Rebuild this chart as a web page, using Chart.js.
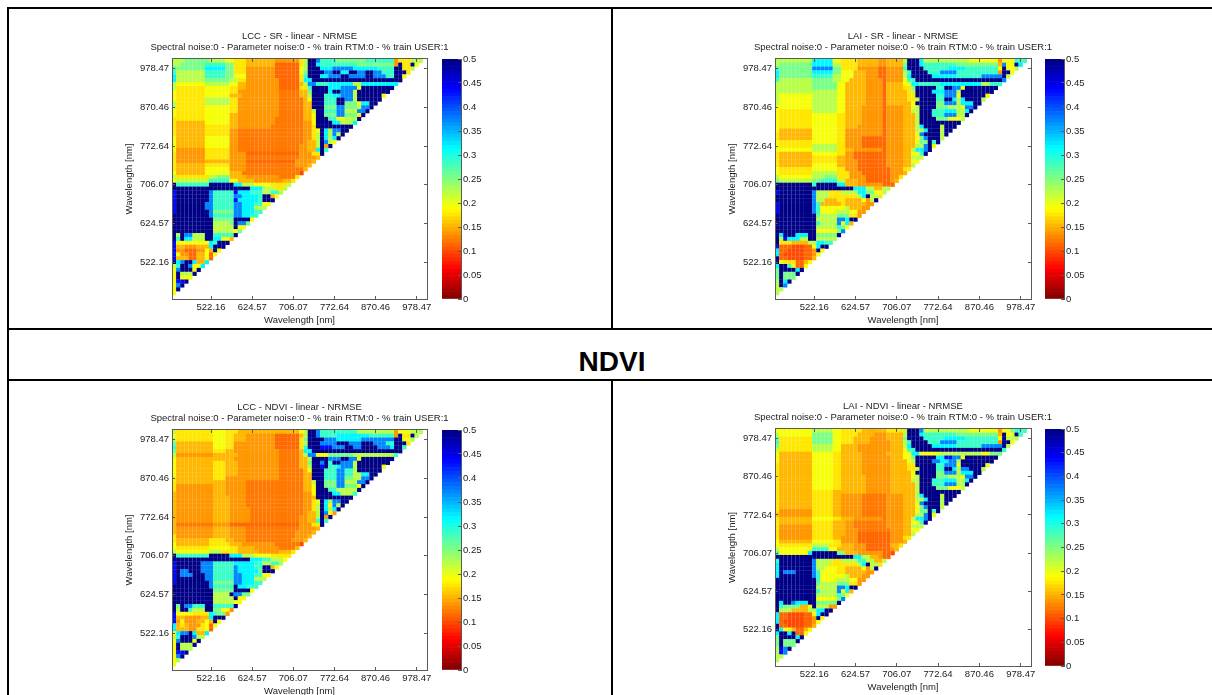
<!DOCTYPE html>
<html>
<head>
<meta charset="utf-8">
<title>NRMSE band combination maps</title>
<script src="https://cdn.jsdelivr.net/npm/chart.js@4/dist/chart.umd.js"></script>
<style>
  html, body { margin: 0; padding: 0; background: #fff; width: 1212px; height: 695px; overflow: hidden; }
  canvas { position: absolute; filter: blur(0.45px); }
  .rule { position: absolute; background: #000; }
  #band { position: absolute; left: 8px; width: 1208px; top: 345px; text-align: center;
          font: bold 28px "Liberation Sans", Arial, sans-serif; color: #000; line-height: 33px; }
</style>
</head>
<body>
<div class="rule" style="left:7px;top:7px;width:1205px;height:2px"></div>
<div class="rule" style="left:7px;top:7px;width:2px;height:688px"></div>
<div class="rule" style="left:611px;top:8px;width:2px;height:321px"></div>
<div class="rule" style="left:8px;top:328px;width:1204px;height:2px"></div>
<div class="rule" style="left:8px;top:379px;width:1204px;height:2px"></div>
<div class="rule" style="left:611px;top:380px;width:2px;height:315px"></div>
<div id="band">NDVI</div>

<canvas id="mapA"></canvas><canvas id="barA"></canvas>
<canvas id="mapB"></canvas><canvas id="barB"></canvas>
<canvas id="mapC"></canvas><canvas id="barC"></canvas>
<canvas id="mapD"></canvas><canvas id="barD"></canvas>

<script>
// Tick labels, at band numbers 10, 20 ... 60
const bandTicks = [10, 20, 30, 40, 50, 60];
const wavelengthLabels = ['522.16', '624.57', '706.07', '772.64', '870.46', '978.47'];
const colorbarTicks = ['0', '0.05', '0.1', '0.15', '0.2', '0.25', '0.3', '0.35', '0.4', '0.45', '0.5'];

const levelLetters = ['D', 'B', 'L', 'C', 'T', 'G', 'H', 'Y', 'A', 'O', 'N', 'M', 'R', 'E'];
const levelValues = [0.5, 0.43, 0.37, 0.32, 0.285, 0.255, 0.225, 0.195, 0.175, 0.155, 0.138, 0.125, 0.115, 0.095];

// One string per row, top row first. "H3 G9" = level H up to column 3, then level G up to column 9.
const lccSrRows = [
  'H3 G9 H13 Y15 A18 O25 N31 A32 H33 D35 L36 T40 G47 T54 N55 A58 H61',
  'H2 G8 T13 G15 A18 O25 R31 A32 H33 D35 C36 T45 G54 N55 D56 A58 D59 Y60',
  'T1 G8 C13 G15 A18 N25 R31 Y32 H33 D36 C39 L44 C50 T54 D56 A58 H59',
  'T1 H8 T13 G15 A18 N25 R31 Y32 G33 D37 L39 D41 C43 D45 L47 D49 L51 T54 D57 A58',
  'C1 H8 T13 G15 Y18 N25 R31 A32 T33 D36 C38 L41 D43 L47 D49 L52 T54 D56 Y57',
  'C1 H8 G14 H16 A18 N26 R31 A32 C34 D56',
  'H1 Y8 H14 Y16 O18 N26 R31 O32 H33 L35 T38 C44 H46 C55',
  'H1 A8 Y14 A16 O18 N26 R31 A33 T34 D38 C41 L45 Y46 D54',
  'Y1 A8 Y14 A16 N18 N26 M31 O33 G34 D38 C39 D41 L44 H45 D53',
  'Y1 A8 Y14 O17 N26 M31 O33 H34 D37 T39 C41 L44 H45 D51 Y52',
  'Y1 A8 H14 A16 N26 M32 O33 Y34 D37 T40 D42 L44 H45 D51',
  'H1 A8 H14 A16 N26 M32 O34 D37 T40 D42 G45 Y46 C48 D50',
  'H1 A8 Y14 A16 N26 M32 O34 D37 G40 L42 G45 H46 L48 D49',
  'Y1 A8 Y14 A16 N26 M32 O34 H35 D37 T40 L42 H45 L47 D48',
  'Y1 A8 Y14 O16 N26 M32 O34 Y35 D37 G40 L42 G45 Y46 D47',
  'A1 A8 Y14 O16 N25 M32 O34 Y35 D38 T40 Y42 H45 D46',
  'A1 O8 Y14 O16 N25 M32 N34 Y35 D39 C41 H44 C45',
  'A1 O8 A14 O16 N24 M32 N34 A35 D44',
  'A1 O8 A14 N16 M32 N34 A35 Y36 D37 C38 H39 L41 D43',
  'A1 O8 A14 N16 M32 N34 A35 H36 D37 C38 H39 L40 H41 D42',
  'Y1 O8 Y14 N16 M32 N34 A35 H36 D37 C38 H39 C40 D41',
  'Y1 O8 Y14 N16 M32 N33 O35 H36 D37 L38 H39 Y40',
  'Y1 O8 Y14 N16 M31 N33 O35 H36 D37 N38 D39',
  'Y1 N8 A14 N16 M31 N33 O35 C36 D37 T38',
  'A1 N8 A14 N18 R31 N34 A36 D37',
  'A1 N8 A14 N18 M31 N35 O36',
  'A1 N8 O14 N18 R30 N34 O35',
  'A1 O8 A14 N18 M30 N33 O34',
  'A1 O8 Y14 N18 M32 O33',
  'Y1 O8 Y14 O17 M31 E32',
  'H1 A9 H11 G14 O18 N26 M30 A31',
  'Y1 H9 T14 Y16 O20 N27 O29 A30',
  'D1 T9 D15 C17 H20 Y24 A28 H29',
  'D19 C22 H25 A27 H28',
  'B1 D9 L10 T15 B16 C19 T22 H24 T26 H27',
  'B1 D9 L10 T15 L17 C21 T22 D24 O25 Y26',
  'B1 D9 L10 T15 B16 C21 T22 D25',
  'B1 D8 L10 T15 L17 C20 T22 Y24',
  'B1 D8 L10 T15 L17 C20 H23',
  'B1 D9 L10 G15 L17 C20 T22',
  'D9 L10 T15 L17 C19 T21',
  'D10 G15 D19 Y20',
  'D10 H14 G15 D16 L18 G19',
  'D10 H15 D16 Y18',
  'D10 H15 Y16 G17',
  'D1 H2 D3 L5 H8 D10 T15 D16',
  'D1 T2 D3 C5 H8 D10 C12 Y14 O15',
  'B1 Y9 C10 T11 D14',
  'B1 O3 N6 O9 C10 D13',
  'B1 N3 R6 N8 Y9 O10 D11 Y12',
  'B1 Y2 N4 R6 O8 Y9 R10 Y11',
  'B1 O4 R6 O8 Y9 R10',
  'D1 C2 L3 D5 C6 O8 C9',
  'H1 T2 D4 L5 Y7 C8',
  'Y1 L2 D5 Y6 D7',
  'Y1 D2 H5 D6',
  'Y1 D2 Y5',
  'Y1 B3 D4',
  'Y1 L2 D3',
  'Y1 D2',
  'Y1'
];

const laiSrRows = [
  'H9 C14 Y16 A20 O25 N27 O31 H32 D35 C36 H47 Y54 N55 Y58 T61',
  'H1 G9 C14 H16 A20 O25 N27 O31 G32 D35 C36 T44 G54 O55 L56 Y58 D59 C60',
  'T1 G9 L14 G16 A20 N25 R27 N31 T32 D36 T42 C46 T54 Y55 D56 Y58 H59',
  'C1 G9 C14 G16 Y19 O22 N25 R27 N31 H32 T33 D37 T40 L44 T54 N55 D57 Y58',
  'C1 G9 T14 H16 Y19 O22 N25 R27 N31 H32 C33 D38 C44 T50 L55 D56 H57',
  'T1 H9 G14 H16 Y18 O22 N26 R27 N31 Y32 T34 D55 L56',
  'H9 G15 Y17 O22 N26 R27 O31 Y33 C35 T40 C50 H52 T55',
  'H9 G15 Y17 O22 N26 R27 O31 A33 G34 D39 T41 D43 L45 Y46 D54',
  'H15 Y17 O22 N26 R27 O32 A33 H34 D38 C41 L44 H45 D53',
  'H1 Y9 H15 Y17 O22 N26 R27 O32 A34 D39 T41 L44 Y45 D51 Y52',
  'H1 Y9 H15 Y17 O22 N26 R27 O32 A34 H35 D39 T41 D43 C44 H45 C46 D50 H51',
  'H1 Y9 H15 Y17 O22 N26 R27 O33 Y34 D39 G41 L44 H45 C48 D50',
  'Y9 H15 Y17 O21 N26 R27 N31 O33 Y34 H35 D39 G42 H45 Y46 L48 D49',
  'Y1 A9 H15 Y17 O21 N26 R27 N31 O33 H35 D38 T41 C44 H46 C47 D48',
  'Y1 A9 Y15 A17 O21 N26 R27 N31 O34 H35 D38 T41 L44 H46 D47',
  'Y1 A9 Y15 A17 O21 N26 R27 N31 O34 H35 D39 G42 Y45 H46',
  'Y1 A9 Y15 A17 O21 N26 R27 N31 O34 H35 D45',
  'Y1 A9 Y15 A17 O20 N26 R27 N31 O34 H35 C36 D40 H41 D44',
  'Y1 O9 Y15 A17 N26 R27 N31 O34 H36 C37 D40 H41 D43',
  'A1 O9 Y15 A17 N26 R27 N31 O34 Y35 L36 D40 H41 D42',
  'A1 O9 Y15 A17 N21 R27 N31 O34 Y35 G36 L37 D40 H41',
  'Y1 A9 Y15 A17 N21 R27 N31 O34 Y35 G37 D38 T39 D40',
  'Y1 A9 H15 A17 N21 R27 N31 O34 H36 L37 D38 Y39',
  'Y9 H15 A17 O19 N26 R27 N31 O33 H34 C36 L37 D38',
  'A1 O9 Y15 A17 N19 R27 N31 O33 Y35 T36 D37',
  'A1 O9 A15 O17 N19 R27 N31 O33 H36',
  'A1 O9 A15 O17 N20 R27 N31 O33 Y35',
  'A1 O9 Y15 O17 N20 R27 N31 O33 H34',
  'Y1 A9 Y15 A17 N20 R28 N31 A33',
  'Y1 A9 H15 A18 N21 R28 N31 O32',
  'H1 Y9 H12 G15 A18 N22 R28 N30 A31',
  'G1 H9 G11 T15 H17 O20 N22 R28 N29 O30',
  'D9 T10 D15 C17 O20 N26 R29',
  'D19 C22 H24 O26 H28',
  'B1 D9 L10 H13 A16 H20 C22 G24 Y26 H27',
  'D9 L10 H13 A20 H21 C22 D23 H25 A26',
  'D9 L10 H12 O15 A17 O21 Y22 N23 H24 D25',
  'B1 D9 L10 T11 O16 A17 O22 N24',
  'B1 D9 L10 T11 Y17 H18 O21 N23',
  'B1 D9 L10 T11 Y15 H18 Y20 N22',
  'D10 G11 H15 G18 A20 N21',
  'D10 H15 L17 C18 D20',
  'D10 T11 H15 L16 Y17 C18 O19',
  'D10 H15 T16 G17 Y18',
  'D10 Y15 G16 L17',
  'D1 C2 D5 C8 D10 G15 D16',
  'D1 H2 B3 C6 H8 D10 H15',
  'D1 A4 O8 H10 C12 T14',
  'B1 R4 E7 R9 Y10 C11 D13',
  'C1 R3 E7 R9 N10 D11 Y12',
  'C1 R2 E7 R9 N10 Y11',
  'D1 R3 E7 R9 O10',
  'D1 Y2 A5 R7 O8 Y9',
  'C1 D3 T4 Y5 R7 Y8',
  'G1 D5 C6 D7',
  'G1 D2 G5 D6',
  'G1 D2 G5',
  'H1 D2 C3 D4',
  'H1 D2 L3',
  'H2',
  'H1'
];

const lccNdviRows = [
  'H1 A10 Y13 A16 O31 Y32 H33 D35 L36 T45 H54 N55 Y58 H61',
  'Y1 A10 Y13 A15 O18 N25 R31 O32 H33 D35 L36 T40 C48 T54 N55 D56 A58 D59 H60',
  'H1 A10 Y13 A15 O18 N25 R31 A32 G33 D37 L40 C46 L54 D56 Y58 H59',
  'G1 O10 Y13 A15 N25 R31 A32 H33 D36 L40 D43 L46 D49 L52 T54 D57 A58',
  'T1 O10 Y13 A15 N25 R31 A32 T33 D36 B39 L42 D44 L46 D50 L53 C54 D56 T57',
  'G1 O10 A13 O15 N26 M31 O32 C34 D56',
  'H1 N10 O16 N26 M31 O32 H33 L35 Y38 G44 H54 T55',
  'Y1 O15 N26 M31 O33 H34 D38 L41 D43 L45 Y46 D54',
  'Y1 O10 A13 O16 N26 M31 O33 G34 D36 L37 D38 T39 D41 L44 H45 D53',
  'Y1 O10 A13 O16 N26 M31 O33 H34 D36 B37 D38 T40 C41 L44 H45 D51 Y52',
  'Y1 O10 A13 O16 N26 M32 O33 Y34 D37 T40 L42 T44 H45 D51',
  'Y1 O10 A13 O16 N26 M32 O34 D37 T40 L42 T44 H46 C48 D50',
  'A1 O10 A13 N26 M32 O34 D37 T40 L42 G44 H46 L48 D49',
  'A1 O13 N18 M32 O34 H35 D37 G40 L42 H45 L47 D48',
  'A1 N10 O13 N18 M32 O34 Y35 D37 G40 L42 G45 Y46 D47',
  'A1 N10 O13 N18 M32 O34 Y35 D38 T40 H45 D46',
  'O1 N10 O13 N18 M32 N34 Y35 D39 C41 H44 T45',
  'O1 N10 O14 N18 M32 N34 O35 D44',
  'O1 N10 O14 N18 M32 N34 A35 Y36 D37 C38 H39 L41 D43',
  'O1 N10 O14 N18 M32 N34 A35 H36 D37 C38 Y39 L40 H41 D42',
  'O1 N10 O14 N19 M32 N34 A35 H36 D37 C38 H39 C40 D41',
  'O1 N10 O14 N19 M32 N33 O35 H36 D37 L38 Y39 N40',
  'O1 N10 O14 N19 M31 N33 O35 H36 D37 N38 D39',
  'O1 N10 O14 N19 M31 N33 O35 T36 D37 T38',
  'O1 M10 N14 R31 N34 A36 D37',
  'O1 N10 O14 N18 M31 N35 O36',
  'O1 N10 O14 N18 M30 N34 O35',
  'A1 N10 O14 N18 M30 N33 O34',
  'A1 O9 A13 O15 N18 M29 N32 O33',
  'Y1 O9 A14 O17 N25 M31 E32',
  'Y1 A9 Y14 A16 O20 N26 M30 O31',
  'H1 Y9 H12 A16 O21 N26 O29 A30',
  'D1 T9 D14 C17 H20 Y24 A29',
  'D19 C22 T24 H27 Y28',
  'B1 D7 L10 T15 C20 T22 H24 T26 H27',
  'B1 D7 L10 T15 L16 C20 T22 D24 O25 Y26',
  'B1 D2 L4 D7 L10 T15 L16 C21 G22 D25',
  'B1 D2 L5 D8 L10 T15 L17 C20 T22 Y24',
  'B1 D8 L10 T15 L17 C20 H23',
  'B1 D9 L10 G15 L17 C20 T22',
  'D9 L10 T15 D16 C18 T21',
  'D10 G15 D19 Y20',
  'D10 H14 D15 L17 G19',
  'D10 H15 D16 Y18',
  'D10 H15 Y17',
  'D1 G2 D3 L5 T8 D10 T15 D16',
  'D1 H2 D4 T5 H8 D10 G12 Y14 N15',
  'B1 Y5 A9 C10 T11 G13 N14',
  'B1 O3 N7 O9 C10 D13',
  'B1 N2 Y3 N6 O8 Y9 O10 D11 Y12',
  'C1 O2 A3 O4 N7 A8 Y9 R10 Y11',
  'C1 O4 N6 A8 Y9 R10',
  'Y1 C2 L4 D5 C6 O8 C9',
  'H1 T2 D5 L6 H8',
  'Y1 L2 D5 Y6 D7',
  'Y1 D2 H5 D6',
  'Y1 D2 H5',
  'Y1 B3 D4',
  'Y1 L2 D3',
  'Y1 H2',
  'Y1'
];

const laiNdviRows = [
  'Y9 H14 Y16 A21 O27 A31 H32 D35 L36 H47 Y54 N55 Y57 G58 T61',
  'H1 Y9 G14 Y16 A20 O24 N27 O31 H32 D35 C36 T44 G54 O55 D56 Y58 D59 T60',
  'G1 A9 G14 Y16 A19 O23 N27 O31 G32 D36 T41 C46 T54 Y55 D56 H59',
  'T1 A9 G14 Y16 A19 O23 N28 O31 H32 T33 D37 T40 L44 T54 N55 D57 Y58',
  'G1 A9 H14 Y16 O20 N28 O31 H32 C33 D38 C44 T50 L55 D56 H57',
  'H1 A9 H14 Y16 O20 N28 O31 Y32 T34 D55 T56',
  'Y1 O9 Y14 A16 O21 N27 O31 Y33 C35 Y40 H50 Y52 G55',
  'Y1 O9 Y14 A16 O21 N28 O31 Y33 G34 D39 C41 B43 L45 Y46 D54',
  'Y1 O9 Y14 A16 O21 N28 O32 Y33 H34 D38 L40 C42 L44 H45 D53',
  'A1 O9 Y14 A16 O21 N28 O32 A34 D39 T41 L44 Y45 D51 Y52',
  'A1 O9 Y14 A16 O21 N28 O32 A34 H35 D39 T41 D43 C44 H45 L47 D50 H51',
  'A1 O9 Y14 A16 O21 N28 O33 Y34 D39 G41 L44 H45 C48 D50',
  'A1 O9 Y14 A16 O22 N28 O33 Y34 H35 D39 G42 H45 Y46 L48 D49',
  'A1 O9 Y14 A16 O22 N28 O33 H35 D38 T41 C44 H46 C47 D48',
  'A1 O9 Y14 A16 O22 N28 O34 H35 D38 T41 L44 H46 D47',
  'A1 O9 Y14 A16 O22 N28 O34 H35 D39 G42 Y45 H46',
  'A1 O9 A14 O22 N28 O34 H35 D45',
  'A1 O9 A14 O16 N21 M27 N31 O34 H35 C36 D40 H41 D44',
  'A1 O9 A14 O16 N21 M27 N31 O34 H36 C37 D40 H41 D43',
  'A1 O9 A14 O16 N21 M27 N31 O34 Y35 L36 D40 H41 D42',
  'A1 O9 A14 O16 N21 M27 N31 O34 Y35 G36 L37 D40 H41',
  'A1 N9 A14 O16 N21 M27 N31 O34 Y35 G37 D38 T39 D40',
  'O1 N9 A14 O16 N21 M27 N31 O34 H36 L37 D38 Y39',
  'A1 O9 Y14 A16 O19 N26 M27 N31 O33 H34 C36 L37 D38',
  'A1 O9 A14 O17 N19 M27 N31 O33 Y35 T36 D37',
  'A1 N9 A14 O17 N19 M27 N31 O33 H36',
  'A1 N9 A14 O17 N20 M28 N31 O33 Y35',
  'A1 N9 A14 O17 N20 R28 N31 O33 H34',
  'A1 N9 A14 O16 N20 R28 N31 A33',
  'Y1 O9 Y14 A16 N20 R28 N31 O32',
  'Y1 A9 H13 A16 O19 N22 R28 O30 A31',
  'H1 Y9 T13 Y15 O19 N22 R28 N29 O30',
  'T1 Y8 C9 D15 G17 O20 N26 R28 E29',
  'D19 C21 H23 O25 N26 R28',
  'T1 D9 L10 H14 A16 H20 T22 H24 O26 H27',
  'C1 D9 L10 H13 A20 H21 C22 D23 H25 A26',
  'C1 D9 L10 H12 Y15 A17 O21 Y22 N23 H24 D25',
  'C1 D2 L5 D9 L10 T11 Y15 A17 O22 N24',
  'C1 D9 L10 T11 Y17 H18 O21 N23',
  'D10 T11 Y15 H18 Y20 N22',
  'D10 G11 H15 G18 A20 N21',
  'D10 H15 L17 C18 D20',
  'D10 T11 H15 L16 Y17 C18 O19',
  'D10 H15 T16 G17 Y18',
  'D10 Y15 G16 L17',
  'D1 C2 D4 L5 C8 D10 G15 D16',
  'D1 T2 G6 O8 Y9 D10 H13 N15',
  'D1 H4 O8 H10 C12 D14',
  'C1 R3 E7 R9 Y10 C11 D13',
  'C1 R3 E7 R9 N10 D11 Y12',
  'C1 R2 E7 R9 N10 Y11',
  'D1 R3 E7 R9 O10',
  'D1 C2 Y4 O5 R7 O8 Y9',
  'C1 D3 C4 D5 R7 Y8',
  'G1 D5 C6 D7',
  'G1 D2 G5 D6',
  'G1 D2 G5',
  'H1 B2 L3 D4',
  'H1 B2 L3',
  'H2',
  'H1'
];

const subtitle = 'Spectral noise:0 - Parameter noise:0 - % train RTM:0 - % train USER:1';
const FONT = '"Liberation Sans", Arial, sans-serif';
const TEXT_COLOR = '#1c1c1c';
const BOX_COLOR = '#5a5a5a';

function clamp(v) { return Math.max(0, Math.min(1, v)); }

// Reversed jet, 64 steps, 0 = dark red and 0.5 = dark blue
function jetColor(value) {
  const step = Math.min(63, Math.floor((1 - value / 0.5) * 64));
  const x = (step + 0.5) / 64;
  const r = clamp(1.5 - Math.abs(4 * x - 3));
  const g = clamp(1.5 - Math.abs(4 * x - 2));
  const b = clamp(1.5 - Math.abs(4 * x - 1));
  return `rgb(${Math.round(r * 255)},${Math.round(g * 255)},${Math.round(b * 255)})`;
}

// Row strings to scatter points. Top row is band 62 and holds 61 cells, each lower row one less.
function rowsToPoints(rows) {
  const points = [];
  rows.forEach((row, t) => {
    const band = 62 - t;
    const cells = band - 1;
    let col = 1;
    let value = 0.5;
    row.split(' ').forEach((run) => {
      value = levelValues[levelLetters.indexOf(run[0])];
      const end = Math.min(parseInt(run.slice(1), 10), cells);
      for (; col <= end; col++) points.push({ x: col, y: band, v: value });
    });
    for (; col <= cells; col++) points.push({ x: col, y: band, v: value });
  });
  return points;
}

function setBandTicks(scale) {
  scale.ticks = bandTicks.map((value) => ({ value }));
}

function bandLabel(value) {
  return wavelengthLabels[bandTicks.indexOf(value)];
}

function wavelengthAxis(position, labelled) {
  const vertical = position === 'left' || position === 'right';
  const opts = {
    type: 'linear',
    position,
    min: 0.5,
    max: 62.5,
    afterBuildTicks: setBandTicks,
    afterFit(scale) {
      // right axis keeps the same width as the left one, so the heading stays centred on the plot
      if (vertical) scale.width = 57;
      else scale.height = labelled ? 29 : 0;
    },
    grid: { drawOnChartArea: false, tickLength: -3, tickColor: BOX_COLOR, z: 1 },
    border: { display: true, color: BOX_COLOR, z: 1 },
    ticks: { display: labelled }
  };
  if (labelled) {
    opts.ticks = {
      display: true,
      autoSkip: false,
      maxRotation: 0,
      padding: 6,
      color: TEXT_COLOR,
      font: { family: FONT, size: 9.5 },
      callback: bandLabel
    };
    opts.title = {
      display: true,
      text: 'Wavelength [nm]',
      color: TEXT_COLOR,
      font: { family: FONT, size: 9.5 },
      padding: vertical ? { top: 9, bottom: 0 } : { top: 0, bottom: 2 }
    };
  }
  return opts;
}

function placeCanvas(canvas, left, top, width, height) {
  canvas.width = width;
  canvas.height = height;
  canvas.style.left = left + 'px';
  canvas.style.top = top + 'px';
  canvas.style.width = width + 'px';
  canvas.style.height = height + 'px';
}

function drawMap(id, rows, heading, box) {
  const canvas = document.getElementById(id);
  const cx = box.left - 57;
  const cy = box.top - 31;
  placeCanvas(canvas, cx, cy, box.right + 57 - cx, box.bottom + 29 - cy);
  new Chart(canvas, {
    type: 'scatter',
    data: {
      datasets: [{
        data: rowsToPoints(rows),
        pointStyle: 'rect',
        pointRadius: 2.95,
        pointBorderWidth: 0,
        pointBackgroundColor: (ctx) => jetColor(ctx.raw.v)
      }]
    },
    options: {
      responsive: false,
      animation: false,
      layout: { padding: { top: 2.6, right: 0, left: 0, bottom: 0 } },
      plugins: {
        legend: { display: false },
        tooltip: { enabled: false },
        title: {
          display: true,
          text: [heading, subtitle],
          color: TEXT_COLOR,
          font: { family: FONT, size: 9.5, weight: 'normal', lineHeight: 1.15 },
          padding: { top: 0, bottom: 6.5 }
        }
      },
      scales: {
        x: wavelengthAxis('bottom', true),
        y: wavelengthAxis('left', true),
        xTop: wavelengthAxis('top', false),
        yRight: wavelengthAxis('right', false)
      }
    }
  });
}

function drawColorbar(id, box) {
  const canvas = document.getElementById(id);
  const cx = box.left;
  const cy = box.top - 6;
  placeCanvas(canvas, cx, cy, box.right + 34 - cx, box.bottom + 8 - cy);
  const steps = [];
  for (let i = 0; i < 64; i++) steps.push(i);
  new Chart(canvas, {
    type: 'bar',
    data: {
      labels: ['NRMSE'],
      datasets: steps.map((i) => ({
        data: [0.5 / 64],
        backgroundColor: jetColor((i + 0.5) * 0.5 / 64),
        barPercentage: 1,
        categoryPercentage: 1,
        borderWidth: 0
      }))
    },
    options: {
      responsive: false,
      animation: false,
      layout: { padding: { top: 6, bottom: 8, left: 0, right: 0 } },
      plugins: { legend: { display: false }, tooltip: { enabled: false } },
      scales: {
        x: { stacked: true, display: false },
        y: {
          stacked: true,
          position: 'right',
          min: 0,
          max: 0.5,
          afterFit(scale) {
            scale.width = 34;
            scale.paddingTop = 0;
            scale.paddingBottom = 0;
          },
          afterBuildTicks(scale) {
            scale.ticks = colorbarTicks.map((t) => ({ value: Number(t) }));
          },
          grid: { drawOnChartArea: false, tickLength: -3, tickColor: BOX_COLOR, z: 1 },
          border: { display: true, color: BOX_COLOR, z: 1 },
          ticks: {
            autoSkip: false,
            padding: 5,
            color: TEXT_COLOR,
            font: { family: FONT, size: 9.5 },
            callback: (value) => colorbarTicks[Math.round(value * 20)]
          }
        }
      }
    }
  });
}

drawMap('mapA', lccSrRows, 'LCC - SR - linear - NRMSE', { left: 171.5, right: 427, top: 59, bottom: 299 });
drawMap('mapB', laiSrRows, 'LAI - SR - linear - NRMSE', { left: 774.5, right: 1031, top: 59, bottom: 299 });
drawMap('mapC', lccNdviRows, 'LCC - NDVI - linear - NRMSE', { left: 171.5, right: 427, top: 430, bottom: 670 });
drawMap('mapD', laiNdviRows, 'LAI - NDVI - linear - NRMSE', { left: 774.5, right: 1031, top: 429, bottom: 666 });

drawColorbar('barA', { left: 442, right: 461, top: 59, bottom: 299 });
drawColorbar('barB', { left: 1045, right: 1064, top: 59, bottom: 299 });
drawColorbar('barC', { left: 442, right: 461, top: 430, bottom: 670 });
drawColorbar('barD', { left: 1045, right: 1064, top: 429, bottom: 666 });
</script>
</body>
</html>
